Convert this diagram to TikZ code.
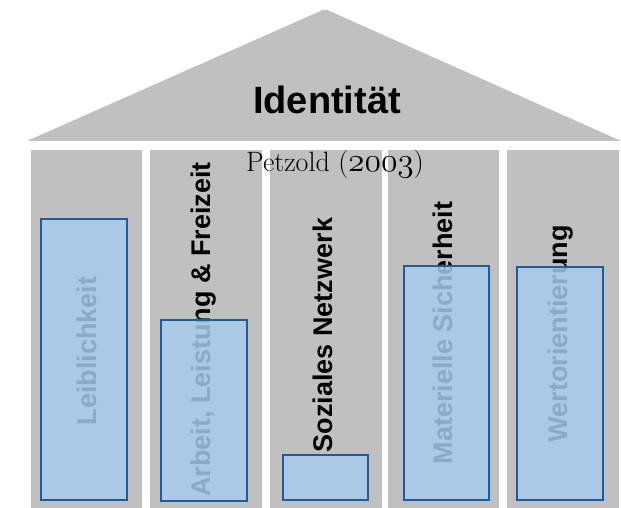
\documentclass[tikz,border=0pt]{standalone}
\usepackage{fontspec}
\newfontfamily\labelfont{Liberation Sans}
% hanging figures taken from the classic math italic font, enlarged past its largest design size
\newcommand{\hangdigits}[1]{\scalebox{1.35}{\fontencoding{OML}\fontfamily{cmm}\fontseries{m}\fontshape{it}\fontsize{24.88}{26}\selectfont #1}}
\begin{document}
\begin{tikzpicture}[x=1pt,y=1pt,
  stone/.style={fill=pillargray, draw=none},
  brick/.style={fill=barblue, fill opacity=0.84, draw=barborder, draw opacity=1, line width=1.6pt},
  pillarlabel/.style={font=\labelfont\bfseries\fontsize{27}{30}\selectfont, text=black, rotate=90, inner sep=0pt, anchor=center},
]
\definecolor{pillargray}{RGB}{192,192,192}
\definecolor{barblue}{RGB}{167,202,237}
\definecolor{barborder}{RGB}{30,92,160}
\useasboundingbox (0,0) rectangle (621,508);
\fill[white] (0,0) rectangle (621,508);

% roof
\fill[stone, rounded corners=2pt] (27,367) -- (325,499) -- (621,367) -- cycle;

% pillars
\fill[stone] (31,-2) rectangle (142,358);
\fill[stone] (150,-2) rectangle (262,358);
\fill[stone] (270,-2) rectangle (382,358);
\fill[stone] (388,-2) rectangle (499,358);
\fill[stone] (507,-2) rectangle (619,358);

% titles
\node[font=\labelfont\bfseries\fontsize{38}{42}\selectfont, inner sep=0pt] (roof) at (327,408) {Identität};

% pillar labels
\node[pillarlabel] (leib) at (87,157) {Leiblichkeit};
\node[pillarlabel] (arbeit) at (204,178.5) {Arbeit, Leistung \& Freizeit};
\node[pillarlabel] (sozial) at (323,173) {Soziales Netzwerk};
\node[pillarlabel] (materiell) at (443,175) {Materielle Sicherheit};
\node[pillarlabel] (wert) at (561,174) {Wertorientierung};

% level bars
\draw[brick] (41,8) rectangle (127,289);
\draw[brick] (161,7) rectangle (247,188);
\draw[brick] (283,8) rectangle (368,53);
\draw[brick] (404,8) rectangle (489,242);
\draw[brick] (517,8) rectangle (603,241);

% source
\node[font=\fontsize{28}{32}\selectfont, inner sep=0pt] (source) at (335,343) {Petzold (\hangdigits{2003})};
\end{tikzpicture}
\end{document}
